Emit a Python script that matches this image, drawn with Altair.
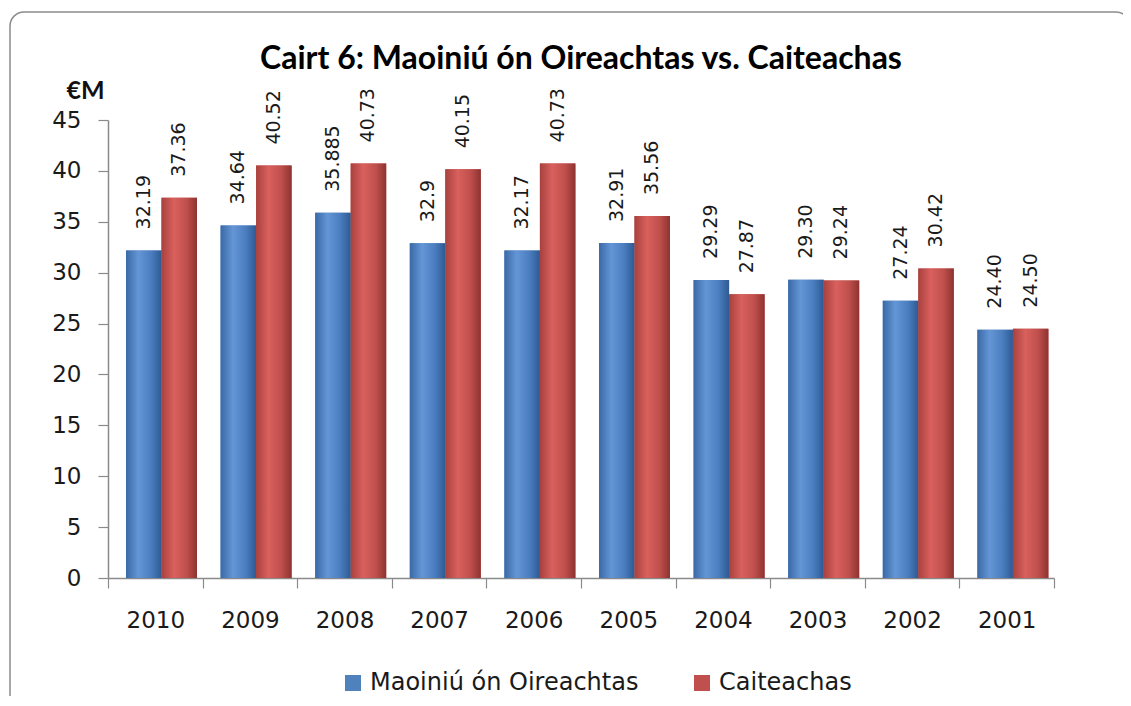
import altair as alt
import pandas as pd

years = ["2010", "2009", "2008", "2007", "2006", "2005", "2004", "2003", "2002", "2001"]
series_names = ["Maoiniú ón Oireachtas", "Caiteachas"]
funding = [32.19, 34.64, 35.885, 32.9, 32.17, 32.91, 29.29, 29.30, 27.24, 24.40]
spending = [37.36, 40.52, 40.73, 40.15, 40.73, 35.56, 27.87, 29.24, 30.42, 24.50]
funding_labels = ["32.19", "34.64", "35.885", "32.9", "32.17", "32.91", "29.29", "29.30", "27.24", "24.40"]
spending_labels = ["37.36", "40.52", "40.73", "40.15", "40.73", "35.56", "27.87", "29.24", "30.42", "24.50"]
y_ticks = [0, 5, 10, 15, 20, 25, 30, 35, 40, 45]

rows = []
for i, yr in enumerate(years):
    rows.append({"year": yr, "series": series_names[0], "value": funding[i], "label": funding_labels[i]})
    rows.append({"year": yr, "series": series_names[1], "value": spending[i], "label": spending_labels[i]})
df = pd.DataFrame(rows)

W, H = 946, 458
FONT = "DejaVu Sans"

x_enc = alt.X(
    "year:N", sort=years,
    scale=alt.Scale(paddingInner=0, paddingOuter=0),
    axis=alt.Axis(title=None, labelAngle=0, tickBand="extent", labelFontSize=23,
                  labelFont=FONT, labelPadding=21, tickSize=10, domainColor="#8a8a8a",
                  tickColor="#8a8a8a", labelColor="#1a1a1a", domainWidth=1.5, tickWidth=1.2),
)
xo_enc = alt.XOffset(
    "series:N", sort=series_names,
    scale=alt.Scale(domain=series_names, range=[18, 89], paddingInner=0, paddingOuter=0),
)
y_enc = alt.Y(
    "value:Q",
    scale=alt.Scale(domain=[0, 45], nice=False, zero=True),
    axis=alt.Axis(values=y_ticks, grid=False, title="€M", titleAngle=0, titleX=-23, titleY=-30,
                  titleFontSize=25, titleFont="Lato", titleFontWeight="bold", titleAlign="center",
                  titleBaseline="middle", titleColor="#111111", labelFontSize=23, labelFont=FONT,
                  labelPadding=17, tickSize=10, domainColor="#8a8a8a", tickColor="#8a8a8a",
                  labelColor="#1a1a1a", domainWidth=1.5, tickWidth=1.2),
)

base = alt.Chart(df).encode(x=x_enc, xOffset=xo_enc, y=y_enc)

legend_layer = base.mark_bar().encode(
    color=alt.Color(
        "series:N", sort=series_names,
        scale=alt.Scale(domain=series_names, range=["#4F81BD", "#C0504D"]),
        legend=alt.Legend(title=None, orient="none", legendX=233, legendY=551,
                          direction="horizontal", symbolType="square", symbolSize=256,
                          symbolStrokeWidth=0, labelFontSize=24, labelFont=FONT,
                          labelColor="#1a1a1a", labelOffset=5, columnPadding=51, labelLimit=500),
    )
)

blue_grad = alt.Gradient(gradient="linear", x1=0, x2=1, y1=0, y2=0, stops=[
    alt.GradientStop(color="#3A69A6", offset=0),
    alt.GradientStop(color="#6496D6", offset=0.35),
    alt.GradientStop(color="#4B7EC0", offset=0.7),
    alt.GradientStop(color="#2E5A93", offset=1),
])
red_grad = alt.Gradient(gradient="linear", x1=0, x2=1, y1=0, y2=0, stops=[
    alt.GradientStop(color="#A8413E", offset=0),
    alt.GradientStop(color="#D9605D", offset=0.35),
    alt.GradientStop(color="#C0504D", offset=0.7),
    alt.GradientStop(color="#8E3331", offset=1),
])

blue_layer = base.transform_filter(alt.datum.series == series_names[0]).mark_bar(fill=blue_grad)
red_layer = base.transform_filter(alt.datum.series == series_names[1]).mark_bar(fill=red_grad)

text_layer = base.mark_text(angle=270, align="left", baseline="middle", dx=21, fontSize=19,
                            font=FONT, color="#1a1a1a").encode(text="label:N")

border = alt.Chart(alt.Data(values=[{}])).mark_rect(
    fill="white", fillOpacity=0, stroke="#8c8c8c", strokeWidth=1.5, cornerRadius=14
).encode(x=alt.value(-98), x2=alt.value(1022), y=alt.value(-108), y2=alt.value(660))

chart = alt.layer(border, legend_layer, blue_layer, red_layer, text_layer).properties(
    width=W, height=H,
    title=alt.TitleParams("Cairt 6: Maoiniú ón Oireachtas vs. Caiteachas", font="Lato",
                          fontSize=32, fontWeight="bold", anchor="middle", offset=6, dy=71,
                          color="#000000"),
    autosize=alt.AutoSizeParams(type="none"),
    padding={"left": 100, "top": 112, "right": 69, "bottom": 118},
    background="white",
).configure_view(stroke=None)

chart.save("out.html", embed_options={"renderer": "svg", "actions": False})
